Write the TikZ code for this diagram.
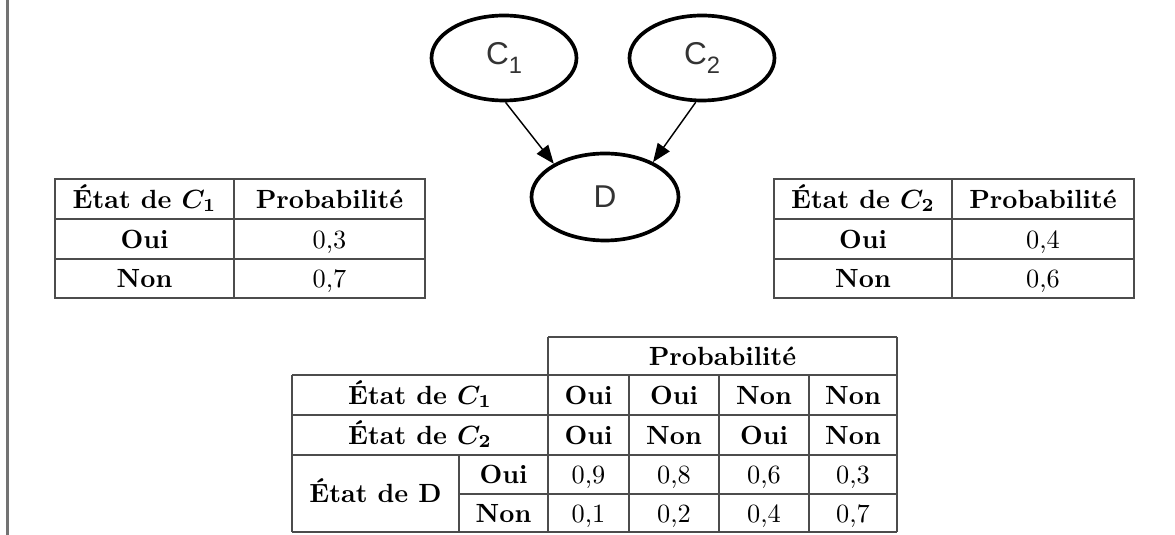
\documentclass[tikz,border=0pt]{standalone}
\usepackage{fontspec}
\newfontfamily\arialf{Liberation Sans}
\usetikzlibrary{arrows.meta,shapes.geometric}
\newcommand{\upx}{0.38pt}
\begin{document}
\begin{tikzpicture}[x=0.38pt,y=-0.38pt,
  grid/.style={draw=black!70, line width=0.5pt},
  cell/.style={inner sep=0pt, text height=6.86pt, text depth=0pt, font=\bfseries\boldmath},
  val/.style={inner sep=0pt, text height=6.86pt, text depth=0pt},
  bnode/.style={ellipse, draw=black, line width=1.4pt, minimum width=145*\upx, minimum height=85*\upx, inner sep=0pt, font=\arialf\fontsize{12}{14}\selectfont, text=black!80},
  conn/.style={line width=0.55pt, -{Triangle[length=7pt,width=5.5pt]}}
]
\useasboundingbox (0,0) rectangle (1175,535);
% left margin line
\draw[line width=0.8pt, black!55] (7.5,0) -- (7.5,535);

% Bayesian network
\node[bnode] (c1) at (504,58) {C\raisebox{-3.5pt}{\fontsize{9}{10}\selectfont 1}};
\node[bnode] (c2) at (702,58) {C\raisebox{-3.5pt}{\fontsize{9}{10}\selectfont 2}};
\node[bnode, minimum width=147*\upx, minimum height=87*\upx] (d) at (605,197) {D};
\draw[conn] (c1.272) -- (d.147);
\draw[conn] (c2.262) -- (d.36);

% left table
\draw[grid] (55,179) rectangle (425,298);
\draw[grid] (55,219) -- (425,219) (55,259) -- (425,259) (234,179) -- (234,298);
\node[cell] (l11) at (144.5,199) {État de $C_1$};
\node[cell] (l12) at (329.5,199) {Probabilité};
\node[cell] (l21) at (144.5,239) {Oui};
\node[val]  (l22) at (329.5,239) {0,3};
\node[cell] (l31) at (144.5,278.5) {Non};
\node[val]  (l32) at (329.5,278.5) {0,7};

% right table
\draw[grid] (774,179) rectangle (1134,298);
\draw[grid] (774,219) -- (1134,219) (774,259) -- (1134,259) (952,179) -- (952,298);
\node[cell] (r11) at (863,199) {État de $C_2$};
\node[cell] (r12) at (1043,199) {Probabilité};
\node[cell] (r21) at (863,239) {Oui};
\node[val]  (r22) at (1043,239) {0,4};
\node[cell] (r31) at (863,278.5) {Non};
\node[val]  (r32) at (1043,278.5) {0,6};

% bottom table
\draw[grid] (548,337) -- (897,337);
\draw[grid] (292,375) -- (897,375) (292,415) -- (897,415) (292,455) -- (897,455)
            (459,494) -- (897,494) (292,532) -- (897,532);
\draw[grid] (292,375) -- (292,532) (459,455) -- (459,532) (548,337) -- (548,532)
            (629,375) -- (629,532) (719,375) -- (719,532) (809,375) -- (809,532)
            (897,337) -- (897,532);
\node[cell] (bp) at (722.5,356) {Probabilité};
\node[cell] (bc1) at (420,395) {État de $C_1$};
\node[cell] (bc2) at (420,435) {État de $C_2$};
\node[cell] (bd) at (375.5,493.5) {État de D};
\node[cell] (bdo) at (503.5,474.5) {Oui};
\node[cell] (bdn) at (503.5,513) {Non};
\node[cell] (ba1) at (588.5,395) {Oui};
\node[cell] (ba2) at (674,395) {Oui};
\node[cell] (ba3) at (764,395) {Non};
\node[cell] (ba4) at (853,395) {Non};
\node[cell] (bb1) at (588.5,435) {Oui};
\node[cell] (bb2) at (674,435) {Non};
\node[cell] (bb3) at (764,435) {Oui};
\node[cell] (bb4) at (853,435) {Non};
\node[val] (bv11) at (588.5,474.5) {0,9};
\node[val] (bv12) at (674,474.5) {0,8};
\node[val] (bv13) at (764,474.5) {0,6};
\node[val] (bv14) at (853,474.5) {0,3};
\node[val] (bv21) at (588.5,513) {0,1};
\node[val] (bv22) at (674,513) {0,2};
\node[val] (bv23) at (764,513) {0,4};
\node[val] (bv24) at (853,513) {0,7};
\end{tikzpicture}
\end{document}
